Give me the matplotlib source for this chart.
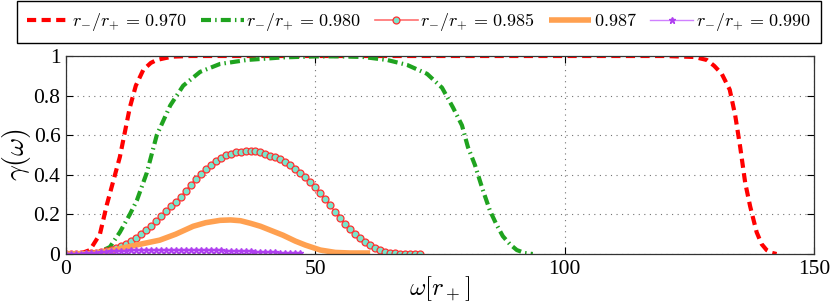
import numpy as np
import matplotlib
matplotlib.use('Agg')
import matplotlib.pyplot as plt

# gamma(omega) for several r-/r+ ratios
w_970 = [0, 3, 4.8, 6.8, 8.2, 9.5, 10.8, 12.8, 14, 15.5, 17, 18.2, 20, 21.5, 25, 40, 80, 120, 126,
         128.5, 130, 131.5, 133.1, 134.2, 135.2, 136.2, 137.2, 138.5, 139.5, 140.5, 141.5, 142.5]
g_970 = [0, 0.003, 0.02, 0.1, 0.25, 0.37, 0.49, 0.74, 0.85, 0.93, 0.965, 0.98, 0.99, 0.997, 1.0, 1.0, 1.0, 1.0, 0.995,
         0.98, 0.95, 0.91, 0.83, 0.70, 0.54, 0.36, 0.24, 0.11, 0.05, 0.02, 0.006, 0]

w_980 = [0, 4, 6.2, 8.8, 10.8, 12.8, 14.2, 16.2, 18.2, 20.9, 23.5, 26.9, 30.9, 36.3, 43.5, 50, 55, 59.6,
         64.4, 68.4, 72.4, 75.4, 77.6, 79.4, 80.6, 82, 83.5, 85, 86.3, 87.6, 89, 90.4, 92, 93.6]
g_980 = [0, 0, 0.005, 0.035, 0.11, 0.2, 0.27, 0.41, 0.6, 0.75, 0.85, 0.92, 0.96, 0.98, 0.993, 0.998, 0.998, 0.995,
         0.98, 0.955, 0.91, 0.84, 0.74, 0.65, 0.54, 0.45, 0.33, 0.22, 0.15, 0.09, 0.05, 0.02, 0.005, 0]

w_985 = list(range(0, 72))
g_985 = [0, 0, 0, 0.001, 0.002, 0.003, 0.006, 0.01, 0.015, 0.021,
         0.03, 0.04, 0.052, 0.065, 0.08, 0.1, 0.12, 0.14, 0.165, 0.19,
         0.215, 0.24, 0.265, 0.29, 0.32, 0.35, 0.38, 0.405, 0.43, 0.45,
         0.47, 0.485, 0.498, 0.507, 0.513, 0.517, 0.52, 0.52, 0.518, 0.513,
         0.505, 0.497, 0.488, 0.478, 0.465, 0.45, 0.43, 0.41, 0.39, 0.365,
         0.34, 0.31, 0.28, 0.245, 0.21, 0.18, 0.15, 0.125, 0.1, 0.08,
         0.062, 0.045, 0.032, 0.02, 0.012, 0.006, 0.003, 0.001, 0, 0,
         0, 0]

w_987 = [0, 5, 8, 10, 12.2, 15, 18.8, 22, 25.5, 28, 30.9, 33, 35, 37, 39, 41, 43.5, 46, 48, 51, 54, 57, 61]
g_987 = [0, 0.002, 0.012, 0.022, 0.035, 0.05, 0.07, 0.1, 0.14, 0.158, 0.17, 0.172, 0.168, 0.155, 0.14, 0.12,
         0.095, 0.065, 0.045, 0.02, 0.008, 0.005, 0.005]

w_990 = list(range(0, 48))
g_990 = [0, 0, 0.001, 0.002, 0.003, 0.005, 0.007, 0.009, 0.011, 0.013,
         0.015, 0.016, 0.017, 0.018, 0.019, 0.02, 0.02, 0.021, 0.021, 0.021,
         0.021, 0.021, 0.021, 0.021, 0.021, 0.021, 0.02, 0.02, 0.02, 0.019,
         0.019, 0.018, 0.017, 0.017, 0.016, 0.015, 0.014, 0.013, 0.012, 0.011,
         0.01, 0.009, 0.008, 0.007, 0.006, 0.005, 0.004, 0.003]

x_ticks = [0, 50, 100, 150]
y_ticks = [0, 0.2, 0.4, 0.6, 0.8, 1]
y_ticklabels = ['0', '0.2', '0.4', '0.6', '0.8', '1']

plt.rcParams['font.family'] = ['Liberation Serif', 'DejaVu Serif']
plt.rcParams['mathtext.fontset'] = 'cm'

fig = plt.figure(figsize=(8.3, 3.04), dpi=100)
ax = fig.add_axes([66 / 830, 50 / 304, 748 / 830, 198 / 304])

ax.plot(w_970, g_970, color='red', lw=3, dashes=[2.2, 1.3], label=r'$r_{-}/r_{+}\,=\,0.970$')
ax.plot(w_980, g_980, color='#1fa31f', lw=3, dashes=[2.4, 1.0, 0.35, 1.0], label=r'$r_{-}/r_{+}\,=\,0.980$')
ax.plot(w_985, g_985, color='#ff7070', lw=1.2, marker='o', ms=5, mfc='#78e6cc', mec='#ff3030', mew=0.9,
        label=r'$r_{-}/r_{+}\,=\,0.985$')
ax.plot(w_987, g_987, color='#ffa050', lw=4, solid_capstyle='butt', label=r'$0.987$')
ax.plot(w_990, g_990, color='#d080ff', lw=1, marker='*', ms=5, mfc='#b040f0', mec='#b040f0',
        label=r'$r_{-}/r_{+}\,=\,0.990$')

ax.set_xlim(0, 150)
ax.set_ylim(0, 1)
ax.set_xticks(x_ticks)
ax.set_xticklabels([str(t) for t in x_ticks])
ax.set_yticks(y_ticks)
ax.set_yticklabels(y_ticklabels)
ax.tick_params(direction='in', top=True, right=True, labelsize=15.5, length=5, width=0.8, pad=4)
ax.grid(True, linestyle=(0, (1, 4)), color='0.45', lw=0.8)
for s in ax.spines.values():
    s.set_color('0.2')
    s.set_linewidth(0.9)

ax.set_xlabel(r'$\omega[r_+]$', fontsize=18, labelpad=-3)
ax.set_ylabel(r'$\gamma(\omega)$', fontsize=20, labelpad=0)

leg = ax.legend(ncol=5, loc='center', bbox_to_anchor=(419 / 830, 1 - 22 / 304),
                bbox_transform=fig.transFigure, fontsize=13, handlelength=2.35, handletextpad=0.15,
                columnspacing=0.75, borderaxespad=0, borderpad=0.55, fancybox=False, framealpha=1,
                edgecolor='black')
leg.get_frame().set_linewidth(1.0)

fig.savefig('out.png', dpi=100)
